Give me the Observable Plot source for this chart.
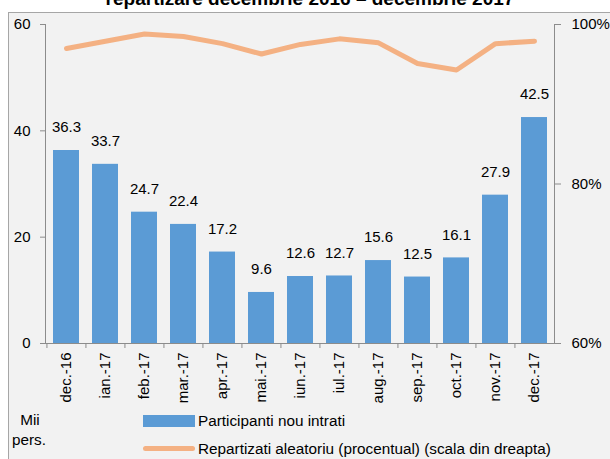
<!DOCTYPE html>
<html><head><meta charset="utf-8">
<script src="https://cdn.jsdelivr.net/npm/d3@7"></script>
<script src="https://cdn.jsdelivr.net/npm/@observablehq/plot@0.6"></script>
<style>
body{margin:0;font-family:"Liberation Sans",Arial,sans-serif;}
#wrap{position:relative;width:610px;height:459px;overflow:hidden;background:#fff;}
#title{position:absolute;left:0;top:0;width:610px;height:12px;overflow:hidden;}
#title span{position:absolute;left:0;width:620px;text-align:center;top:-11px;font-weight:bold;font-size:19px;line-height:19px;color:#000;white-space:nowrap;}
#frame{position:absolute;left:8px;top:12px;width:610px;height:460px;border-left:1px solid #A6A6A6;border-top:1px solid #A6A6A6;background:#F2F2F2;}
#chart svg{display:block;}
#legend{position:relative;height:46px;font-size:15.3px;color:#000;}
#legend div{position:absolute;white-space:nowrap;line-height:16px;}
</style>
</head><body>
<div id="wrap">
  <div id="title"><span>repartizare decembrie 2016 – decembrie 2017</span></div>
  <div id="frame">
    <div id="chart"></div>
    <div id="legend">
      <div style="left:1px;top:-1px;width:40px;text-align:center;">Mii</div>
      <div style="left:3px;top:19px;">pers.</div>
      <div style="left:134px;top:2px;width:52px;height:12px;background:#5B9BD5;"></div>
      <div style="left:189px;top:0px;">Participanti nou intrati</div>
      <div style="left:134px;top:33px;width:52px;height:5px;border-radius:3px;background:#F4B183;"></div>
      <div style="left:189px;top:28px;">Repartizati aleatoriu (procentual) (scala din dreapta)</div>
    </div>
  </div>
</div>
<script>
const months = ["dec.-16","ian.-17","feb.-17","mar.-17","apr.-17","mai.-17","iun.-17","iul.-17","aug.-17","sep.-17","oct.-17","nov.-17","dec.-17"];
const participants = [36.3,33.7,24.7,22.4,17.2,9.6,12.6,12.7,15.6,12.5,16.1,27.9,42.5];
const randomPct = [97.0,97.9,98.8,98.5,97.6,96.3,97.5,98.2,97.7,95.1,94.3,97.6,97.9];
const leftTicks = [0,20,40,60];
const rightTicks = [60,80,100];
const rightTickLabels = ["60%","80%","100%"];

const W = 601, H = 400, mL = 36, mR = 56, mT = 11, mB = 70;
const step = (W - mL - mR) / months.length;
const toLeft = p => (p - 60) * 60 / 40;
const axisColor = "#8C8C8C";

const bars = months.map((m, i) => ({m, v: participants[i]}));
const pts = months.map((m, i) => ({m, p: randomPct[i]}));

const chart = Plot.plot({
  width: W, height: H,
  marginLeft: mL, marginRight: mR, marginTop: mT, marginBottom: mB,
  style: {background: "transparent", fontFamily: "Liberation Sans, Arial, sans-serif", fontSize: "15px", color: "#000", overflow: "visible"},
  x: {type: "band", domain: months, paddingInner: 0.34, paddingOuter: 0.17},
  y: {domain: [0, 60]},
  marks: [
    Plot.barY(bars, {x: "m", y: "v", fill: "#5B9BD5"}),
    Plot.text(bars, {x: "m", y: "v", text: d => d.v.toFixed(1), dy: -23, fill: "#000", fontSize: 15}),
    Plot.line(pts, {x: "m", y: d => toLeft(d.p), stroke: "#F4B183", strokeWidth: 5, strokeLinecap: "round", strokeLinejoin: "round"}),
    Plot.frame({anchor: "left", stroke: axisColor}),
    Plot.frame({anchor: "right", stroke: axisColor}),
    Plot.frame({anchor: "bottom", stroke: axisColor}),
    Plot.axisY({anchor: "left", ticks: leftTicks, tickSize: 5, tickPadding: 10, stroke: axisColor, fill: "#000", label: null}),
    Plot.axisY({anchor: "right", ticks: rightTicks.map(toLeft), tickFormat: d => rightTickLabels[rightTicks.map(toLeft).indexOf(d)], tickSize: 6, tickPadding: 11, stroke: axisColor, fill: "#000", label: null}),
    Plot.axisX({tickRotate: -90, tickSize: 0, tickPadding: 9, fill: "#000", label: null}),
    Plot.axisX({tickSize: 5, tickFormat: () => "", dx: -step / 2, stroke: axisColor, label: null})
  ]
});
document.getElementById("chart").appendChild(chart);
</script>
</body></html>
